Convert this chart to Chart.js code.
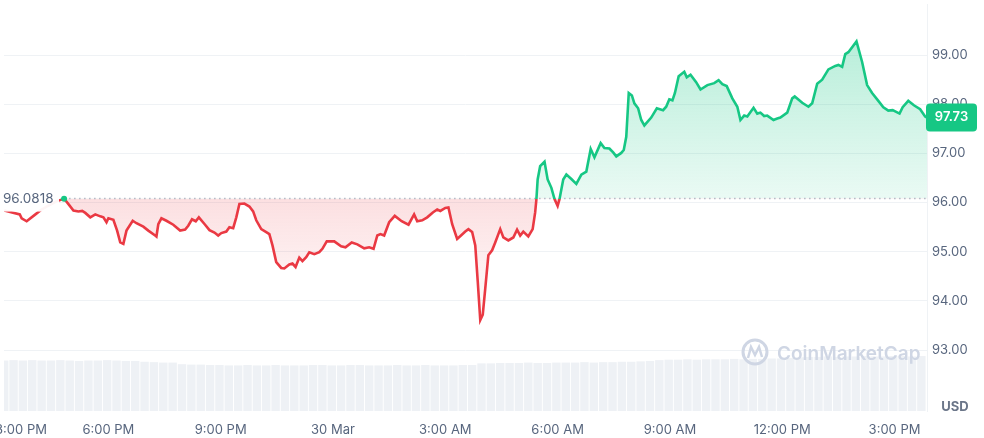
<!DOCTYPE html>
<html>
<head>
<meta charset="utf-8">
<script src="https://cdn.jsdelivr.net/npm/chart.js@4.4.1/dist/chart.umd.min.js"></script>
<style>
  html, body { margin: 0; padding: 0; background: #fff; }
  #wrap { width: 984px; height: 438px; }
</style>
</head>
<body>
<div id="wrap"><canvas id="price-chart"></canvas></div>
<script>
// reference (open) price of the 24h window
const basePrice = 96.0818;

// short stretch before the window opens (sits behind the open-price label)
const preTimes = ['15:08','15:33','15:36','15:44','15:56','16:08','16:19','16:31','16:44'];
const prePrices = [95.84,95.76,95.68,95.62,95.74,95.86,95.94,96.02,96.08];

// 24h price, 29 Mar 16:44 -> 30 Mar 15:47
const times = [
  '16:44','16:51','16:59','17:07','17:13','17:18','17:26','17:34','17:42','17:47',
  '17:52','17:55','18:03','18:09','18:14','18:19','18:24','18:34','18:40','18:51',
  '18:59','19:10','19:12','19:15','19:20','19:28','19:39','19:50','19:58','20:03',
  '20:09','20:15','20:20','20:30','20:37','20:45','20:51','20:56','21:04','21:09',
  '21:15','21:20','21:25','21:33','21:41','21:47','21:52','22:00','22:08','22:13',
  '22:18','22:24','22:32','22:37','22:45','22:50','22:55','23:01','23:06','23:12',
  '23:17','23:25','23:33','23:38','23:45','23:57','00:08','00:15','00:25','00:34',
  '00:45','00:53','01:00','01:06','01:11','01:17','01:25','01:34','01:45','01:56',
  '02:05','02:10','02:18','02:26','02:35','02:42','02:47','02:55','03:00','03:06',
  '03:14','03:21','03:27','03:32','03:38','03:43','03:47','03:51','03:55','03:59',
  '04:04','04:10','04:15','04:23','04:28','04:36','04:44','04:50','04:55','05:00',
  '05:08','05:15','05:19','05:21','05:23','05:27','05:34','05:39','05:45','05:50',
  '05:55','05:58','06:04','06:09','06:17','06:25','06:33','06:41','06:48','06:54',
  '07:04','07:10','07:18','07:24','07:29','07:37','07:41','07:45','07:49','07:54',
  '07:58','08:04','08:09','08:14','08:25','08:34','08:44','08:49','08:54','08:59',
  '09:03','09:09','09:18','09:22','09:28','09:37','09:44','09:55','10:06','10:13',
  '10:19','10:26','10:35','10:43','10:48','10:54','10:59','11:09','11:15','11:20',
  '11:26','11:31','11:41','11:47','11:52','12:03','12:11','12:15','12:27','12:37',
  '12:43','12:51','12:59','13:09','13:20','13:25','13:31','13:36','13:41','13:54',
  '14:03','14:11','14:19','14:29','14:37','14:45','14:52','15:03','15:08','15:17',
  '15:26','15:36','15:44','15:47'
];
const prices = [
  96.08,95.97,95.84,95.82,95.83,95.79,95.70,95.76,95.72,95.70,
  95.60,95.68,95.65,95.43,95.19,95.16,95.43,95.63,95.58,95.51,
  95.43,95.33,95.31,95.56,95.68,95.63,95.55,95.43,95.45,95.53,
  95.66,95.62,95.70,95.55,95.44,95.39,95.33,95.38,95.41,95.50,
  95.48,95.70,95.97,95.98,95.92,95.82,95.64,95.46,95.40,95.36,
  95.13,94.79,94.67,94.66,94.74,94.76,94.69,94.88,94.81,94.89,
  94.99,94.95,94.99,95.06,95.21,95.21,95.11,95.09,95.19,95.15,
  95.07,95.09,95.06,95.33,95.36,95.33,95.60,95.73,95.62,95.55,
  95.76,95.62,95.64,95.70,95.80,95.86,95.83,95.89,95.90,95.56,
  95.26,95.34,95.41,95.46,95.40,95.13,94.39,93.61,93.72,94.25,
  94.93,95.03,95.19,95.46,95.29,95.23,95.29,95.45,95.33,95.41,
  95.31,95.46,95.80,96.07,96.47,96.74,96.83,96.47,96.30,96.07,
  95.93,96.07,96.47,96.57,96.48,96.38,96.57,96.63,97.09,96.92,
  97.21,97.11,97.10,97.02,96.94,97.01,97.07,97.34,98.23,98.18,
  98.02,97.92,97.68,97.57,97.73,97.92,97.88,97.95,98.10,98.08,
  98.23,98.57,98.66,98.55,98.60,98.45,98.30,98.39,98.43,98.49,
  98.41,98.37,98.12,97.95,97.68,97.77,97.75,97.93,97.81,97.83,
  97.76,97.77,97.68,97.71,97.73,97.83,98.12,98.16,98.03,97.95,
  98.02,98.42,98.50,98.71,98.78,98.80,98.76,99.02,99.06,99.28,
  98.86,98.39,98.23,98.07,97.94,97.87,97.88,97.81,97.94,98.07,
  97.98,97.90,97.75,97.73
];

// volume, one bar per 15 min from 15:08 (billions USD)
const volStart = '15:08';
const volumes = [
  1.24,1.25,1.24,1.25,1.24,1.24,1.25,1.24,1.23,1.24,1.24,1.25,1.24,1.23,1.23,
  1.21,1.20,1.19,1.19,
  1.15,1.14,1.14,1.13,1.13,1.12,1.12,1.13,1.12,1.12,1.13,1.12,
  1.12,1.12,1.13,1.13,1.12,1.12,1.13,1.13,1.12,1.12,1.12,1.13,1.12,1.12,1.13,1.12,1.12,1.12,1.13,1.13,
  1.17,1.17,1.18,
  1.18,1.18,1.19,1.18,1.18,1.19,1.19,1.19,1.20,1.19,1.20,1.20,1.21,1.21,1.22,1.23,
  1.25,1.26,1.26,1.27,1.26,1.27,1.27,1.27,1.28,1.27,1.28,1.28,1.29,1.29,1.30,
  1.32,1.33,1.33,1.34,1.33,1.34,1.34,1.35,1.34,1.34,1.35,1.35,1.34,1.35
];

// axis ticks
const xTickTimes = ['15:35','17:55','20:55','23:55','02:55','05:55','08:55','11:55','14:55'];
const xTickLabels = ['3:00 PM','6:00 PM','9:00 PM','30 Mar','3:00 AM','6:00 AM','9:00 AM','12:00 PM','3:00 PM'];
const yTicks = [93, 94, 95, 96, 97, 98, 99];

const GREEN = '#16c784';
const RED = '#ea3943';
const TEXT = '#58667e';

// minutes after 15:00 on 29 Mar, rolling over midnight
function toMinutes(list) {
  let day = 0, prev = -Infinity;
  return list.map(t => {
    const [h, m] = t.split(':').map(Number);
    let v = h * 60 + m - 900 + day;
    if (v < prev) { day += 1440; v += 1440; }
    prev = v;
    return v;
  });
}

const preX = toMinutes(preTimes);
const mainX = toMinutes(times);
const tickX = toMinutes(xTickTimes);
const volX0 = toMinutes([volStart])[0];

const prePoints = preX.map((x, i) => ({ x: x, y: prePrices[i] }));
const pricePoints = mainX.map((x, i) => ({ x: x, y: prices[i] }));
const volPoints = volumes.map((v, i) => ({ x: volX0 + i * 15, y: v }));
const basePoints = [{ x: mainX[0], y: basePrice }, { x: 1487, y: basePrice }];

function lineColor(c) {
  const chart = c.chart;
  const area = chart.chartArea;
  if (!area) return RED;
  const y = chart.scales.y.getPixelForValue(basePrice);
  const t = Math.min(1, Math.max(0, (y - area.top) / (area.bottom - area.top)));
  const g = chart.ctx.createLinearGradient(0, area.top, 0, area.bottom);
  g.addColorStop(0, GREEN);
  g.addColorStop(t, GREEN);
  g.addColorStop(t, RED);
  g.addColorStop(1, RED);
  return g;
}

function areaFill(c) {
  const chart = c.chart;
  if (!chart.chartArea) return { value: basePrice, above: 'rgba(22,199,132,0.2)', below: 'rgba(234,57,67,0.1)' };
  const ys = chart.scales.y;
  const yb = ys.getPixelForValue(basePrice);
  const up = chart.ctx.createLinearGradient(0, ys.getPixelForValue(99.3), 0, yb);
  up.addColorStop(0, 'rgba(22,199,132,0.30)');
  up.addColorStop(1, 'rgba(22,199,132,0.09)');
  const down = chart.ctx.createLinearGradient(0, yb, 0, ys.getPixelForValue(93.6));
  down.addColorStop(0, 'rgba(234,57,67,0.16)');
  down.addColorStop(1, 'rgba(234,57,67,0.01)');
  return { value: basePrice, above: up, below: down };
}

const overlays = {
  id: 'overlays',
  afterDatasetsDraw(chart) {
    const ctx = chart.ctx;
    const ys = chart.scales.y;
    const yb = ys.getPixelForValue(basePrice);

    // watermark
    ctx.save();
    ctx.strokeStyle = '#cfd6e4';
    ctx.lineWidth = 3;
    ctx.beginPath();
    ctx.arc(755, 352, 12, 0, Math.PI * 2);
    ctx.stroke();
    ctx.lineWidth = 2.5;
    ctx.beginPath();
    ctx.moveTo(748, 358);
    ctx.lineTo(751, 347);
    ctx.lineTo(755, 355);
    ctx.lineTo(759, 347);
    ctx.lineTo(762, 357);
    ctx.stroke();
    ctx.fillStyle = '#cfd6e4';
    ctx.font = '600 19px Inter';
    ctx.textBaseline = 'middle';
    ctx.fillText('CoinMarketCap', 777, 354);
    ctx.restore();

    // open price label
    ctx.save();
    ctx.fillStyle = 'rgba(255,255,255,0.95)';
    ctx.fillRect(0, yb - 12, 59, 25);
    ctx.fillStyle = TEXT;
    ctx.font = '13.5px Inter';
    ctx.textBaseline = 'middle';
    ctx.textAlign = 'left';
    ctx.fillText(String(basePrice), 3, yb);
    ctx.restore();
  },
  afterDraw(chart) {
    const ctx = chart.ctx;
    const last = prices[prices.length - 1];
    const y = chart.scales.y.getPixelForValue(last);
    ctx.save();
    ctx.fillStyle = GREEN;
    ctx.beginPath();
    ctx.roundRect(926, y - 14, 51, 28, 4);
    ctx.fill();
    ctx.fillStyle = '#fff';
    ctx.font = '600 13px Inter';
    ctx.textAlign = 'center';
    ctx.textBaseline = 'middle';
    ctx.fillText(last.toFixed(2), 951.5, y);

    ctx.fillStyle = '#6b7689';
    ctx.font = 'bold 13px Inter';
    ctx.fillText('USD', 955, 407);
    ctx.restore();
  }
};

Chart.defaults.font.family = 'Inter';
Chart.defaults.font.size = 13;
Chart.defaults.color = TEXT;

new Chart(document.getElementById('price-chart'), {
  data: {
    datasets: [
      {
        type: 'line',
        data: pricePoints,
        borderColor: lineColor,
        borderWidth: 2.6,
        fill: areaFill,
        tension: 0,
        pointRadius: c => (c.dataIndex === 0 ? 3 : 0),
        pointBackgroundColor: GREEN,
        pointBorderWidth: 0,
        order: 1
      },
      {
        type: 'line',
        data: prePoints,
        borderColor: lineColor,
        borderWidth: 2.6,
        fill: false,
        pointRadius: 0,
        order: 2
      },
      {
        type: 'line',
        data: basePoints,
        borderColor: '#b3bccb',
        borderWidth: 1.5,
        borderDash: [1.5, 3.5],
        fill: false,
        pointRadius: 0,
        order: 3
      },
      {
        type: 'bar',
        data: volPoints,
        yAxisID: 'yv',
        backgroundColor: '#eef1f5',
        barPercentage: 0.9,
        categoryPercentage: 1,
        order: 4
      }
    ]
  },
  options: {
    responsive: true,
    maintainAspectRatio: false,
    animation: false,
    layout: { padding: 0 },
    plugins: { legend: { display: false }, tooltip: { enabled: false } },
    scales: {
      x: {
        type: 'linear',
        min: 7.7,
        max: 1487,
        offset: false,
        grid: { display: false, drawTicks: false, offset: false },
        border: { display: false },
        ticks: {
          autoSkip: false,
          maxRotation: 0,
          padding: 11,
          callback: (v, i) => xTickLabels[i]
        },
        afterBuildTicks: s => { s.ticks = tickX.map(v => ({ value: v })); },
        afterFit: s => { s.height = 27; s.paddingLeft = 0; s.paddingRight = 0; }
      },
      y: {
        position: 'right',
        min: 91.76,
        max: 100.04,
        grid: { color: '#eff2f5', drawTicks: false },
        border: { display: true, color: '#eff2f5' },
        ticks: {
          padding: 5,
          callback: v => Number(v).toFixed(2)
        },
        afterBuildTicks: s => { s.ticks = yTicks.map(v => ({ value: v })); },
        afterFit: s => { s.width = 57; s.paddingTop = 0; s.paddingBottom = 0; }
      },
      yv: {
        display: false,
        min: 0,
        max: 10
      }
    }
  },
  plugins: [overlays]
});
</script>
</body>
</html>
